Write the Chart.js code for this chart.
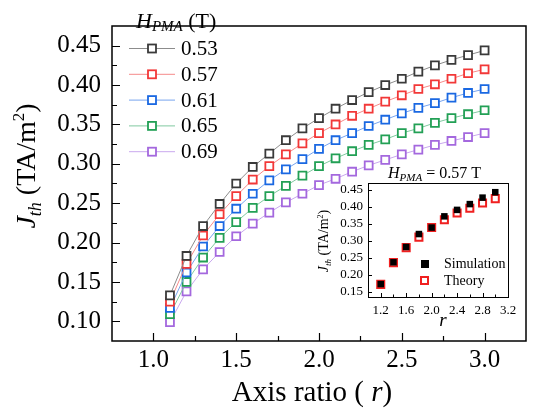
<!DOCTYPE html>
<html>
<head>
<meta charset="utf-8">
<script src="https://cdn.jsdelivr.net/npm/chart.js@4"></script>
<style>
  body { margin: 0; background: #fff; }
  #wrap { position: relative; width: 535px; height: 414px; }
  #main { position: absolute; left: 0; top: 0; }
  #inset { position: absolute; left: 310px; top: 160px; }
</style>
</head>
<body>
<div id="wrap">
  <canvas id="main" width="535" height="414"></canvas>
  <canvas id="inset" width="215" height="175"></canvas>
</div>
<script>
// main plot data
const ratios = [1.1, 1.2, 1.3, 1.4, 1.5, 1.6, 1.7, 1.8, 1.9, 2.0, 2.1, 2.2, 2.3, 2.4, 2.5, 2.6, 2.7, 2.8, 2.9, 3.0];
const fieldLabels = ['0.53', '0.57', '0.61', '0.65', '0.69'];
const j053 = [0.133, 0.183, 0.221, 0.249, 0.275, 0.296, 0.313, 0.330, 0.345, 0.358, 0.370, 0.381, 0.391, 0.400, 0.408, 0.417, 0.425, 0.432, 0.438, 0.444];
const j057 = [0.125, 0.173, 0.209, 0.236, 0.259, 0.280, 0.297, 0.312, 0.326, 0.339, 0.350, 0.361, 0.370, 0.379, 0.387, 0.395, 0.401, 0.408, 0.415, 0.420];
const j061 = [0.117, 0.162, 0.195, 0.221, 0.243, 0.262, 0.279, 0.293, 0.306, 0.319, 0.330, 0.339, 0.348, 0.356, 0.364, 0.371, 0.377, 0.384, 0.390, 0.395];
const j065 = [0.109, 0.150, 0.181, 0.206, 0.226, 0.244, 0.259, 0.272, 0.285, 0.297, 0.307, 0.316, 0.324, 0.331, 0.339, 0.345, 0.352, 0.358, 0.363, 0.368];
const j069 = [0.099, 0.138, 0.166, 0.188, 0.208, 0.224, 0.238, 0.251, 0.262, 0.273, 0.281, 0.290, 0.298, 0.305, 0.312, 0.318, 0.324, 0.329, 0.334, 0.339];
const xMajor = [1.0, 1.5, 2.0, 2.5, 3.0];
const xMinor = [1.25, 1.75, 2.25, 2.75];
const yMajor = [0.10, 0.15, 0.20, 0.25, 0.30, 0.35, 0.40, 0.45];
const yMinor = [0.125, 0.175, 0.225, 0.275, 0.325, 0.375, 0.425];

// inset data (H_PMA = 0.57 T)
const insetRatios = [1.2, 1.4, 1.6, 1.8, 2.0, 2.2, 2.4, 2.6, 2.8, 3.0];
const simulation = [0.173, 0.237, 0.282, 0.320, 0.339, 0.372, 0.391, 0.408, 0.427, 0.443];
const theory = [0.172, 0.236, 0.280, 0.311, 0.339, 0.362, 0.382, 0.396, 0.411, 0.424];
const insetXMajor = [1.2, 1.6, 2.0, 2.4, 2.8, 3.2];
const insetXMinor = [1.4, 1.8, 2.2, 2.6, 3.0];
const insetYMajor = [0.15, 0.20, 0.25, 0.30, 0.35, 0.40, 0.45];

const markerColors = ['#3a3a3a', '#f23838', '#1a68e2', '#22a055', '#a468de'];
const lineColors = ['#8c8c8c', '#f58a8a', '#78a4ee', '#80c9a0', '#c9a8ee'];
const serif = "'Liberation Serif', 'Times New Roman', serif";

// draws text made of pieces (italic, subscript, superscript)
function drawRich(ctx, parts, x, y, align) {
    let total = 0;
    parts.forEach(p => { ctx.font = p.font; total += ctx.measureText(p.t).width; });
    let cx = align === 'center' ? x - total / 2 : x;
    ctx.textAlign = 'left';
    ctx.textBaseline = 'alphabetic';
    parts.forEach(p => {
        ctx.font = p.font;
        ctx.fillText(p.t, cx, y + (p.dy || 0));
        cx += ctx.measureText(p.t).width;
    });
}

function jthLabel(s) {
    return [
        { t: 'J', font: `italic ${s}px ${serif}` },
        { t: 'th', font: `italic ${Math.round(s * 0.65)}px ${serif}`, dy: s * 0.22 },
        { t: ' (TA/m', font: `${s}px ${serif}` },
        { t: '2', font: `${Math.round(s * 0.6)}px ${serif}`, dy: -s * 0.38 },
        { t: ')', font: `${s}px ${serif}` }
    ];
}

function drawTicks(ctx, chart, xs, ys, len) {
    const a = chart.chartArea;
    const sx = chart.scales.x, sy = chart.scales.y;
    ctx.beginPath();
    xs.forEach(v => {
        const px = Math.round(sx.getPixelForValue(v)) + 0.5;
        ctx.moveTo(px, a.bottom);
        ctx.lineTo(px, a.bottom - len);
    });
    ys.forEach(v => {
        const py = Math.round(sy.getPixelForValue(v)) + 0.5;
        ctx.moveTo(a.left, py);
        ctx.lineTo(a.left + len, py);
    });
    ctx.stroke();
}

const mainDecor = {
    id: 'mainDecor',
    afterDraw(chart) {
        const ctx = chart.ctx;
        const a = chart.chartArea;
        ctx.save();
        ctx.strokeStyle = '#000';
        ctx.fillStyle = '#000';
        ctx.lineWidth = 1.5;
        ctx.strokeRect(a.left, a.top, a.right - a.left, a.bottom - a.top);
        ctx.lineWidth = 1.2;
        drawTicks(ctx, chart, xMajor, yMajor, 8);
        drawTicks(ctx, chart, xMinor, yMinor, 5);

        // axis titles
        drawRich(ctx, [
            { t: 'Axis ratio ( ', font: `29px ${serif}` },
            { t: 'r', font: `italic 29px ${serif}` },
            { t: ')', font: `29px ${serif}` }
        ], 312, 401, 'center');
        ctx.save();
        ctx.translate(35, 166);
        ctx.rotate(-Math.PI / 2);
        drawRich(ctx, jthLabel(28), 0, 0, 'center');
        ctx.restore();

        // legend
        drawRich(ctx, [
            { t: 'H', font: `italic 22px ${serif}` },
            { t: 'PMA', font: `italic 15px ${serif}`, dy: 2.5 },
            { t: ' (T)', font: `22px ${serif}` }
        ], 136, 28, 'left');
        fieldLabels.forEach((lab, k) => {
            const y = 48.5 + k * 25.8;
            ctx.strokeStyle = lineColors[k];
            ctx.lineWidth = 1;
            ctx.beginPath();
            ctx.moveTo(129, y);
            ctx.lineTo(175, y);
            ctx.stroke();
            ctx.fillStyle = '#fff';
            ctx.fillRect(148, y - 4, 8, 8);
            ctx.strokeStyle = markerColors[k];
            ctx.lineWidth = 1.8;
            ctx.strokeRect(148, y - 4, 8, 8);
            ctx.fillStyle = '#000';
            ctx.font = `21px ${serif}`;
            ctx.textBaseline = 'middle';
            ctx.fillText(lab, 181, y + 1);
        });
        ctx.restore();
    }
};

const insetDecor = {
    id: 'insetDecor',
    afterDraw(chart) {
        const ctx = chart.ctx;
        const a = chart.chartArea;
        ctx.save();
        ctx.strokeStyle = '#000';
        ctx.fillStyle = '#000';
        ctx.lineWidth = 1;
        ctx.strokeRect(a.left + 0.5, a.top + 0.5, a.right - a.left, a.bottom - a.top);
        drawTicks(ctx, chart, insetXMajor, insetYMajor, 4);
        drawTicks(ctx, chart, insetXMinor, [], 2.5);

        drawRich(ctx, [
            { t: 'H', font: `italic 16px ${serif}` },
            { t: 'PMA', font: `italic 11px ${serif}`, dy: 2.5 },
            { t: ' = 0.57 T', font: `16px ${serif}` }
        ], 78, 18, 'left');
        drawRich(ctx, [{ t: 'r', font: `italic 19px ${serif}` }], 133, 166, 'center');
        ctx.save();
        ctx.translate(18, 81);
        ctx.rotate(-Math.PI / 2);
        drawRich(ctx, jthLabel(14), 0, 0, 'center');
        ctx.restore();

        // inset legend
        ctx.fillRect(111, 100, 8, 8);
        ctx.strokeStyle = '#f02020';
        ctx.lineWidth = 2;
        ctx.strokeRect(111, 117, 7, 7);
        ctx.font = `14px ${serif}`;
        drawRich(ctx, [{ t: 'Simulation', font: `14px ${serif}` }], 134, 108, 'left');
        drawRich(ctx, [{ t: 'Theory', font: `14px ${serif}` }], 134, 125, 'left');
        ctx.restore();
    }
};

const series = [j053, j057, j061, j065, j069];

new Chart(document.getElementById('main'), {
    type: 'line',
    data: {
        datasets: series.map((vals, k) => ({
            label: fieldLabels[k],
            data: ratios.map((r, i) => ({ x: r, y: vals[i] })),
            borderColor: lineColors[k],
            borderWidth: 1,
            pointStyle: 'rect',
            pointRadius: 5.6,
            pointBorderWidth: 1.8,
            pointBorderColor: markerColors[k],
            pointBackgroundColor: '#fff',
            tension: 0
        }))
    },
    options: {
        responsive: false,
        animation: false,
        layout: { padding: { top: 5, right: 9, left: 0, bottom: 0 } },
        plugins: { legend: { display: false }, tooltip: { enabled: false } },
        scales: {
            x: {
                type: 'linear',
                min: 0.75,
                max: 3.25,
                afterBuildTicks: scale => { scale.ticks = xMajor.map(v => ({ value: v })); },
                afterFit: scale => { scale.height = 73; },
                grid: { display: false, drawTicks: false },
                border: { display: false },
                ticks: { padding: 4, color: '#000', font: { family: serif, size: 25 }, maxRotation: 0,
                    callback: v => v.toFixed(1) }
            },
            y: {
                min: 0.075,
                max: 0.475,
                afterBuildTicks: scale => { scale.ticks = yMajor.map(v => ({ value: v })); },
                afterFit: scale => { scale.width = 112; },
                grid: { display: false, drawTicks: false },
                border: { display: false },
                ticks: { padding: 11, color: '#000', font: { family: serif, size: 25 },
                    callback: v => v.toFixed(2) }
            }
        }
    },
    plugins: [mainDecor]
});

new Chart(document.getElementById('inset'), {
    type: 'scatter',
    data: {
        datasets: [
            {
                label: 'Simulation',
                data: insetRatios.map((r, i) => ({ x: r, y: simulation[i] })),
                pointStyle: 'rect',
                pointRadius: 4.6,
                pointBorderWidth: 0,
                pointBackgroundColor: '#000',
                pointBorderColor: '#000'
            },
            {
                label: 'Theory',
                data: insetRatios.map((r, i) => ({ x: r, y: theory[i] })),
                pointStyle: 'rect',
                pointRadius: 5,
                pointBorderWidth: 2,
                pointBackgroundColor: '#fff',
                pointBorderColor: '#f02020'
            }
        ]
    },
    options: {
        responsive: false,
        animation: false,
        layout: { padding: { top: 23, right: 17, left: 0, bottom: 0 } },
        plugins: { legend: { display: false }, tooltip: { enabled: false } },
        scales: {
            x: {
                type: 'linear',
                min: 1.0,
                max: 3.2,
                afterBuildTicks: scale => { scale.ticks = insetXMajor.map(v => ({ value: v })); },
                afterFit: scale => { scale.height = 38; },
                grid: { display: false, drawTicks: false },
                border: { display: false },
                ticks: { padding: 6, color: '#000', font: { family: serif, size: 13 }, maxRotation: 0,
                    callback: v => v.toFixed(1) }
            },
            y: {
                min: 0.135,
                max: 0.47,
                afterBuildTicks: scale => { scale.ticks = insetYMajor.map(v => ({ value: v })); },
                afterFit: scale => { scale.width = 58; },
                grid: { display: false, drawTicks: false },
                border: { display: false },
                ticks: { padding: 5, color: '#000', font: { family: serif, size: 13 },
                    callback: v => v.toFixed(2) }
            }
        }
    },
    plugins: [insetDecor]
});
</script>
</body>
</html>
